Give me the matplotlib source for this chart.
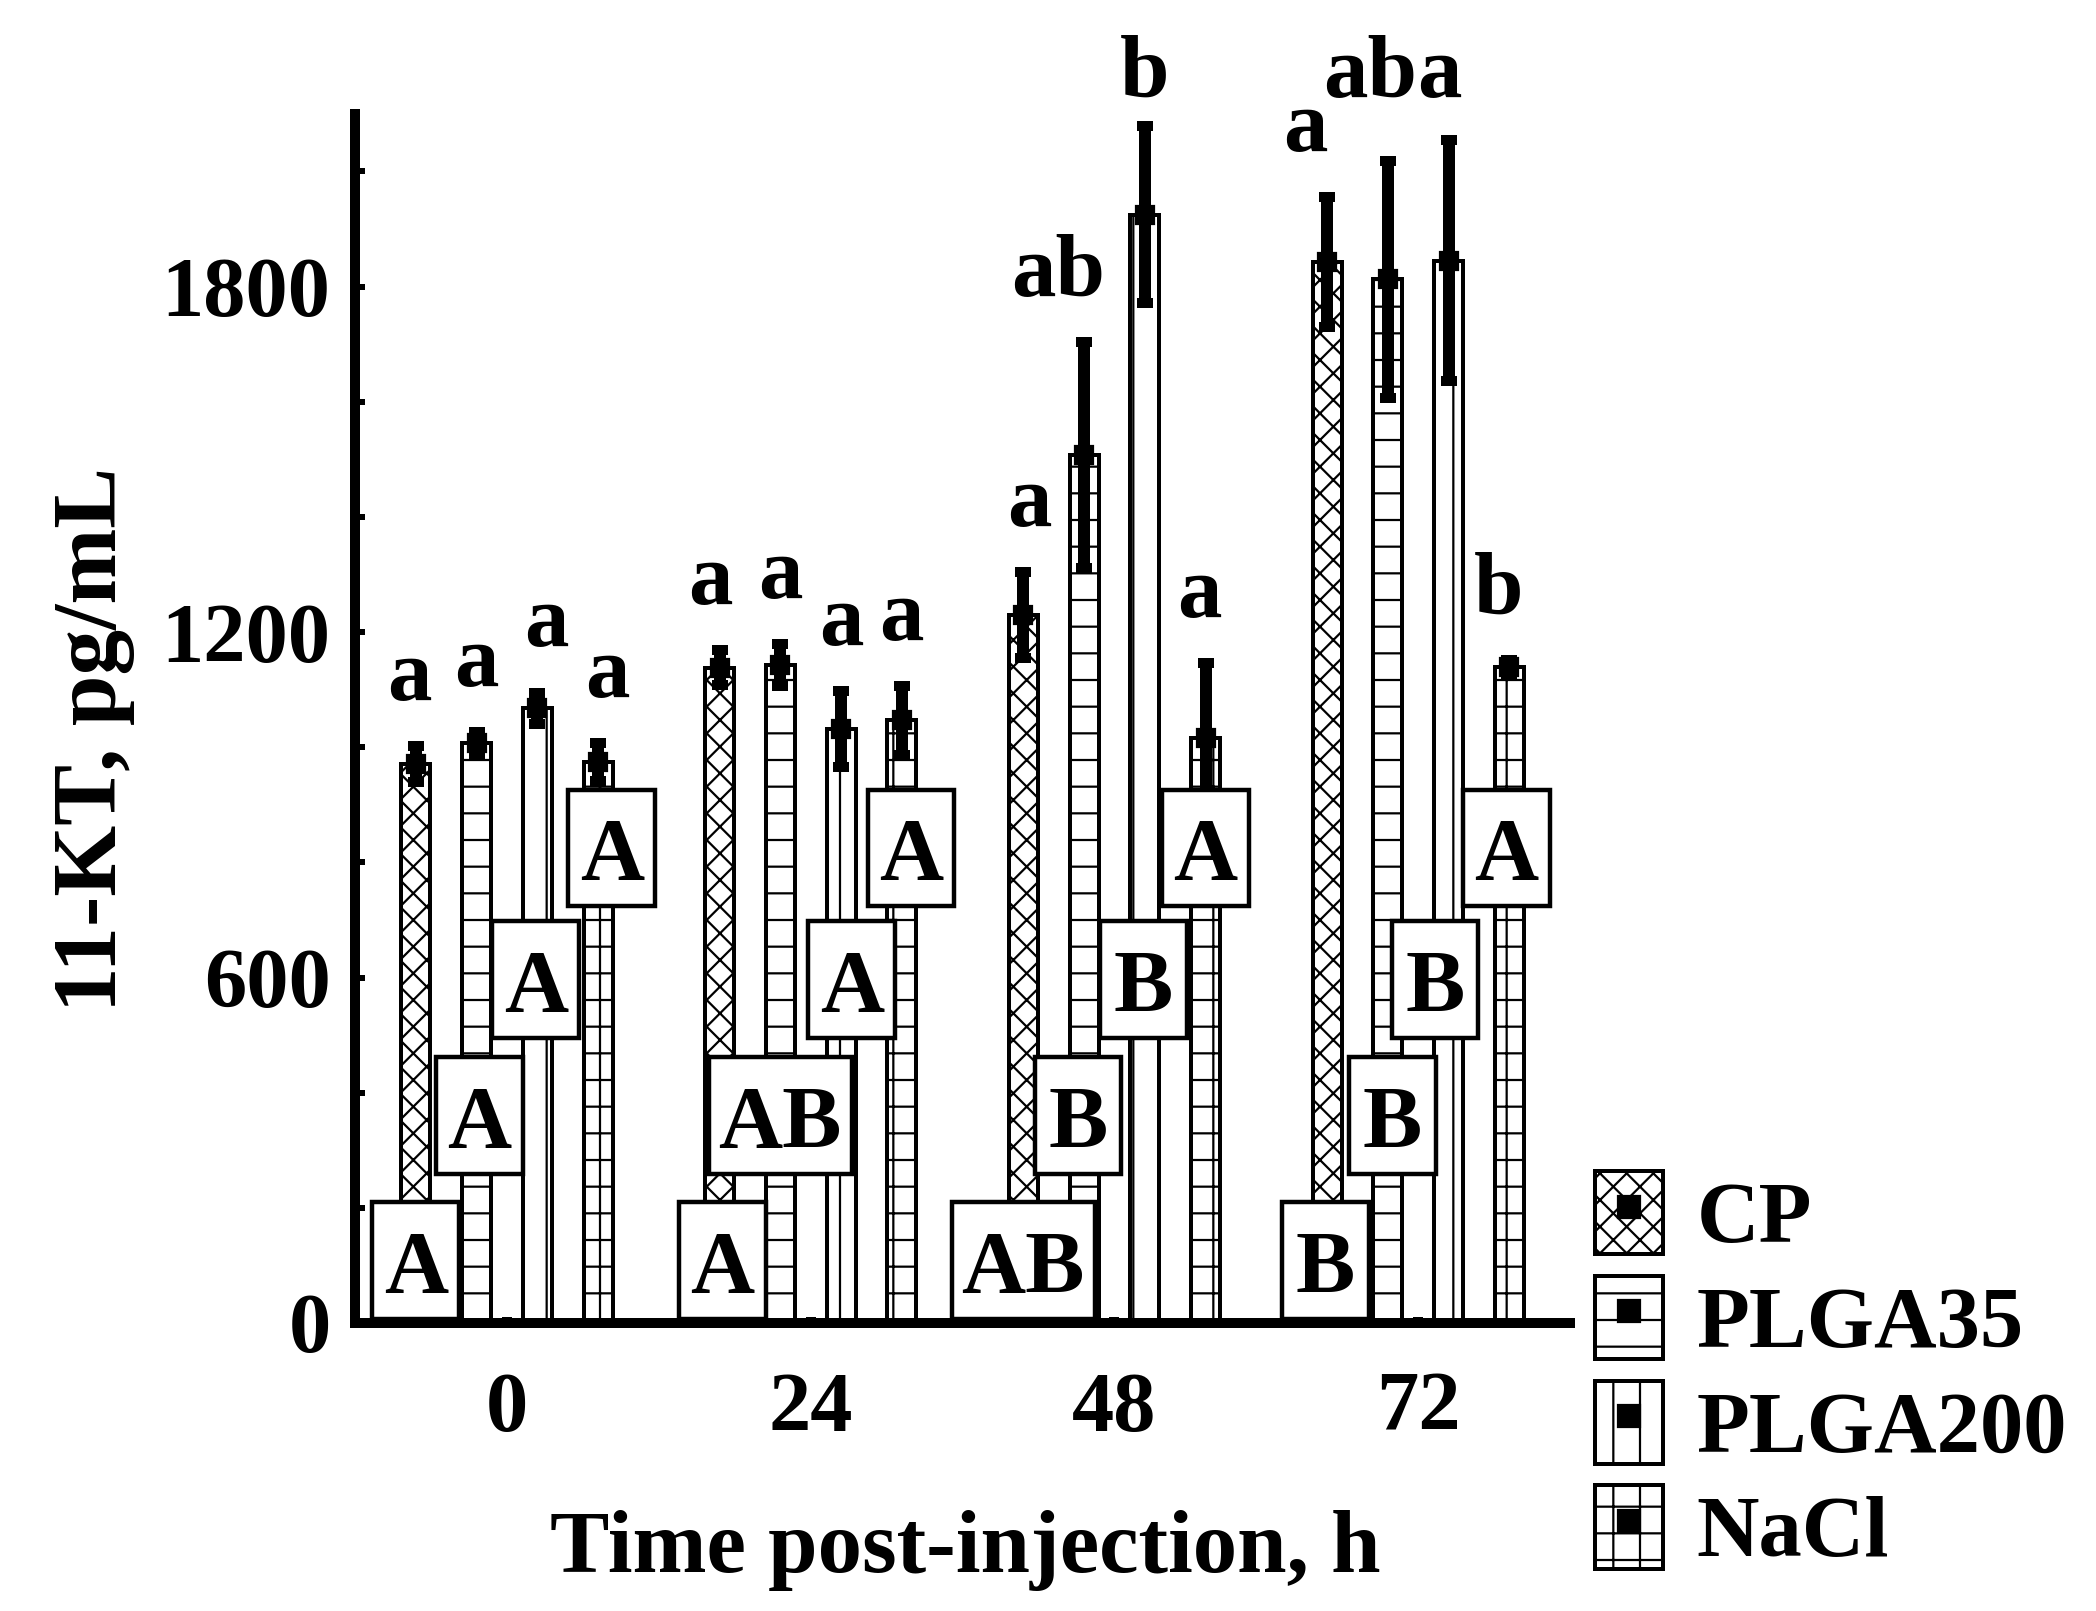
import numpy as np
import matplotlib
matplotlib.use('Agg')
import matplotlib.pyplot as plt
from matplotlib.patches import Patch, Rectangle
from matplotlib.lines import Line2D

# data (11-KT, pg/mL)
times = ['0', '24', '48', '72']
groups = ['CP', 'PLGA35', 'PLGA200', 'NaCl']

cp_mean = [971, 1138, 1230, 1843]
cp_err = [31, 30, 75, 113]
plga35_mean = [1008, 1143, 1508, 1813]
plga35_err = [19, 37, 196, 206]
plga200_mean = [1068, 1032, 1925, 1845]
plga200_err = [27, 66, 154, 209]
nacl_mean = [974, 1047, 1016, 1139]
nacl_err = [33, 60, 131, 13]

# letters: lower case = between treatments, upper case = over time
cp_sig = ['a', 'a', 'a', 'a']
plga35_sig = ['a', 'a', 'ab', 'ab']
plga200_sig = ['a', 'a', 'b', 'a']
nacl_sig = ['a', 'a', 'a', 'b']
cp_box = ['A', 'A', 'AB', 'B']
plga35_box = ['A', 'AB', 'B', 'B']
plga200_box = ['A', 'A', 'B', 'B']
nacl_box = ['A', 'A', 'A', 'A']

means = [cp_mean, plga35_mean, plga200_mean, nacl_mean]
errs = [cp_err, plga35_err, plga200_err, nacl_err]
sigs = [cp_sig, plga35_sig, plga200_sig, nacl_sig]
boxes = [cp_box, plga35_box, plga200_box, nacl_box]
hatches = ['xx', '-', '|', '+']

# layout
offsets = [-0.3, -0.1, 0.1, 0.3]
box_levels = [108, 360, 596, 825]
bar_w = 0.095
# small horizontal nudges of the letters (x units)
sig_dx = [[-0.02, -0.03, 0.02, -0.07],
          [0.0, 0.0, -0.085, -0.06],
          [0.03, 0.0, 0.0, -0.03],
          [0.03, 0.0, -0.02, -0.035]]
box_dx = [[0.0, 0.01, 0.0, -0.005],
          [0.01, 0.0, -0.02, 0.015],
          [-0.005, 0.035, -0.005, -0.045],
          [0.045, 0.03, 0.0, -0.01]]

plt.rcParams['font.family'] = ['Liberation Serif', 'DejaVu Serif']
plt.rcParams['font.weight'] = 'bold'
plt.rcParams['axes.labelweight'] = 'bold'
plt.rcParams['hatch.linewidth'] = 1.0
plt.rcParams['hatch.color'] = 'black'

fig = plt.figure(figsize=(2096 / 160, 1611 / 160), dpi=160)
ax = fig.add_axes([0.1694, 0.1788, 0.5797, 0.7505])

x = np.arange(len(times))
for i in range(len(groups)):
    xs = x + offsets[i]
    ax.bar(xs, means[i], width=bar_w, color='white', edgecolor='black',
           hatch=hatches[i], linewidth=1.8, zorder=2)
    ax.errorbar(xs, means[i], yerr=errs[i], fmt='s', color='black', ms=8.5,
                elinewidth=5.4, capsize=3.6, capthick=4.5, zorder=3)
    for j in range(len(times)):
        # significance letter above the error bar
        ty = means[i][j] + errs[i][j] + 80
        if ty > 2050:
            ty = 2130
        ax.text(xs[j] + sig_dx[i][j], ty, sigs[i][j], ha='center',
                va='baseline', fontsize=40, zorder=6, clip_on=False)
        # boxed letter
        bw = 0.47 if len(boxes[i][j]) > 1 else 0.286
        bh = 203
        bx = xs[j] + box_dx[i][j]
        yc = box_levels[i]
        ax.add_patch(Rectangle((bx - bw / 2, yc - bh / 2), bw, bh,
                               facecolor='white', edgecolor='black',
                               linewidth=2.0, zorder=4))
        ax.text(bx, yc, boxes[i][j], ha='center', va='center_baseline',
                fontsize=40, zorder=5)

ax.set_xlim(-0.5, 3.5)
ax.set_ylim(0, 2100)
ax.set_xticks(x)
ax.set_xticklabels(times)
ax.set_yticks([0, 600, 1200, 1800])
ax.set_yticks(np.arange(0, 2001, 200), minor=True)
ax.tick_params(axis='y', which='both', direction='in', length=4.5, width=2.7,
               pad=11, labelsize=38)
ax.tick_params(axis='x', which='both', direction='in', length=2.5, width=4.5,
               pad=22, labelsize=38)
for s in ['top', 'right']:
    ax.spines[s].set_visible(False)
for s in ['left', 'bottom']:
    ax.spines[s].set_linewidth(4.5)

ax.set_ylabel('11-KT, pg/mL', fontsize=41, fontweight='bold')
ax.yaxis.set_label_coords(-0.2148, 0.483)
ax.yaxis.label.set_va('center')
ax.set_xlabel('Time post-injection, h', fontsize=40, fontweight='bold')
ax.xaxis.set_label_coords(0.502, -0.206)
ax.xaxis.label.set_va('baseline')

handles = [(Patch(facecolor='white', edgecolor='black', hatch=h, linewidth=1.8),
            Line2D([], [], marker='s', color='black', ms=9.5, ls='none'))
           for h in hatches]
fig.legend(handles, groups, loc='upper left',
           bbox_to_anchor=(1595 / 2096, 1 - 1171 / 1611), frameon=False,
           prop={'weight': 'bold', 'size': 39}, handlelength=0.78,
           handleheight=1.1, handletextpad=0.39, labelspacing=0.17,
           borderpad=0, borderaxespad=0)

fig.savefig('out.png', dpi=160)
plt.close(fig)
